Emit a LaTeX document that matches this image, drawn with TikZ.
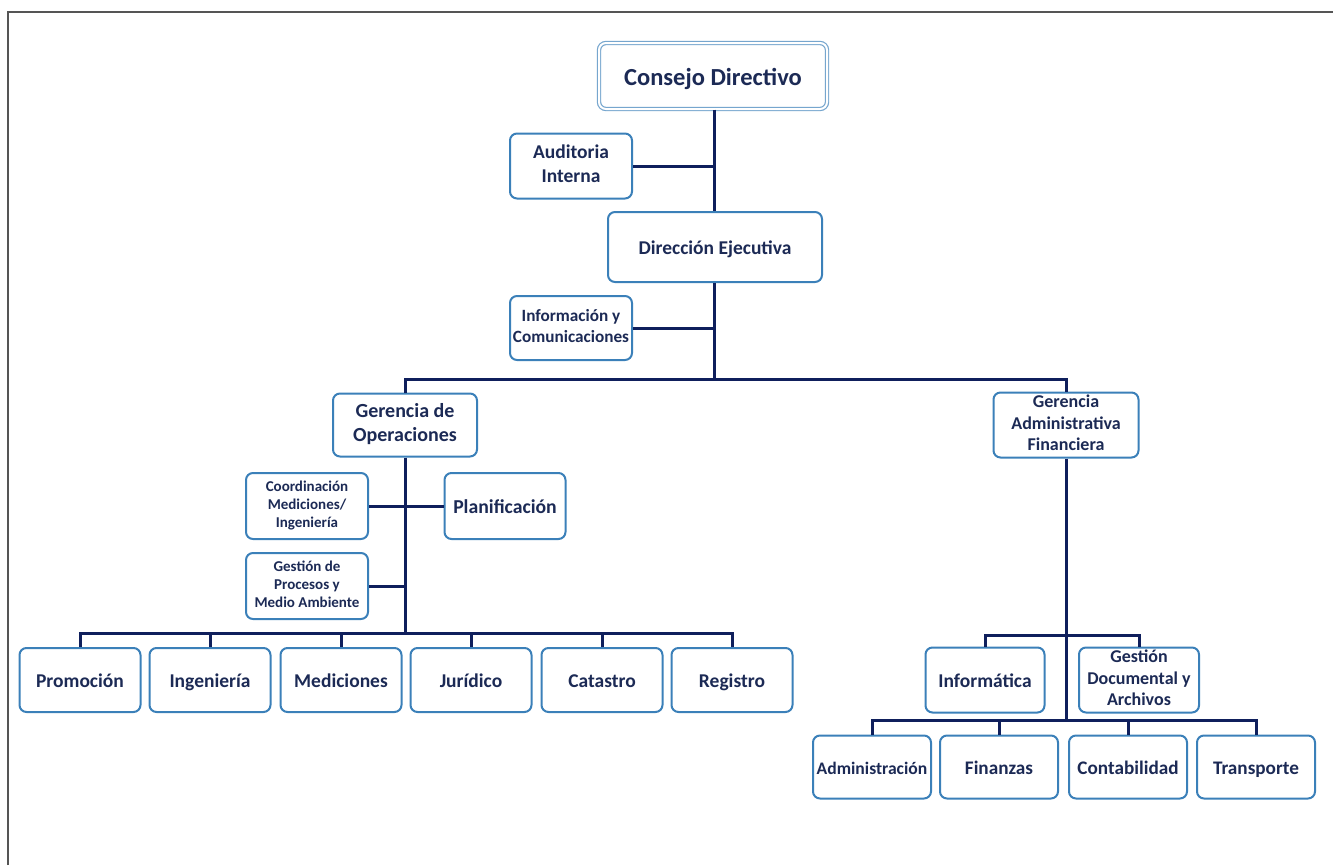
\documentclass[tikz,border=0pt]{standalone}
\usepackage{fontspec}
\setmainfont{Carlito}
\definecolor{txt}{HTML}{1C2A55}
\definecolor{bord}{HTML}{3B80B9}
\definecolor{conn}{HTML}{0F1F5C}
\definecolor{frame}{HTML}{555555}
\newcommand{\fs}[1]{\fontsize{#1}{1.2\dimexpr #1pt\relax}\selectfont\bfseries}
\newcommand{\mystrut}{\rule[-0.25em]{0pt}{1.3em}}
\tikzset{
  box/.style={draw=bord, line width=2pt, rounded corners=7pt, fill=white, text=txt,
    align=center, inner sep=0pt, minimum width=121pt, minimum height=64pt,
    execute at begin node=\mystrut, execute at end node=\mystrut},
  link/.style={draw=conn, line width=3pt},
}
\begin{document}
\begin{tikzpicture}[x=1pt,y=-1pt]
\useasboundingbox (0,0) rectangle (1333,865);
\draw[frame, line width=2pt] (8,865) -- (8,12) -- (1333,12);
% top
\node[box, double=white, double distance=2pt, draw=bord!70, line width=1.2pt, minimum width=228pt, minimum height=66pt, font=\fs{24.5}] (cd) at (713,76) {Consejo Directivo};
\node[box, minimum width=122pt, minimum height=65pt, font=\fs{19.5}] (ai) at (571,166) {Auditoria\\Interna};
\node[box, minimum width=214pt, minimum height=70pt, font=\fs{19.5}] (de) at (715,247) {Dirección Ejecutiva};
\node[box, minimum width=122pt, minimum height=64pt, font=\fs{17.2}] (ic) at (571,328) {Información y\\Comunicaciones};
\node[box, minimum width=144pt, minimum height=63pt, font=\fs{20}] (go) at (405,425) {Gerencia de\\Operaciones};
\node[box, minimum width=145pt, minimum height=65pt, font=\fs{18}] (gaf) at (1066,425) {Gerencia\\Administrativa\\Financiera};
\node[box, minimum width=122pt, minimum height=66pt, font=\fs{15}] (cm) at (307,506) {Coordinación\\Mediciones/\\Ingeniería};
\node[box, minimum width=121pt, minimum height=66pt, font=\fs{19.7}] (pl) at (505,506) {Planificación};
\node[box, minimum width=122pt, minimum height=66pt, font=\fs{15}] (gp) at (307,586) {Gestión de\\Procesos y\\Medio Ambiente};
% bottom left row
\node[box, font=\fs{19.5}] (pro) at (80,680) {Promoción};
\node[box, font=\fs{19.5}] (ing) at (210,680) {Ingeniería};
\node[box, font=\fs{19.5}] (med) at (341,680) {Mediciones};
\node[box, font=\fs{19.5}] (jur) at (471,680) {Jurídico};
\node[box, font=\fs{19.5}] (cat) at (602,680) {Catastro};
\node[box, font=\fs{19.5}] (reg) at (732,680) {Registro};
% right
\node[box, minimum width=119pt, minimum height=65pt, font=\fs{19.5}] (inf) at (985,680) {Informática};
\node[box, minimum width=120pt, minimum height=65pt, font=\fs{18}] (gd) at (1139,680) {Gestión\\Documental y\\Archivos};
\node[box, minimum width=118pt, minimum height=63pt, font=\fs{17.6}] (adm) at (872,767) {Administración};
\node[box, minimum width=118pt, minimum height=63pt, font=\fs{19.2}] (fin) at (999,767) {Finanzas};
\node[box, minimum width=118pt, minimum height=63pt, font=\fs{19.2}] (con) at (1128,767) {Contabilidad};
\node[box, minimum width=118pt, minimum height=63pt, font=\fs{19.2}] (tra) at (1256,767) {Transporte};
% junctions
\coordinate (bus1) at (714,379);
\coordinate (bus2) at (405,633);
\coordinate (bus3) at (1066,635);
\coordinate (bus4) at (1066,720);
% connectors
\draw[link] (cd.south -| bus1) -- (de.north -| bus1);
\draw[link] (ai.east) -- (ai.east -| bus1);
\draw[link] (de.south -| bus1) -- (bus1);
\draw[link] (ic.east) -- (ic.east -| bus1);
\draw[link] (go.north) |- (bus1) -| (gaf.north);
\draw[link] (go.south) -- (bus2);
\draw[link] (cm.east) -- (pl.west);
\draw[link] (gp.east) -- (gp.east -| go.south);
\draw[link] (pro.north) |- (bus2) -| (reg.north);
\draw[link] (ing.north) -- (ing.north |- bus2);
\draw[link] (med.north) -- (med.north |- bus2);
\draw[link] (jur.north) -- (jur.north |- bus2);
\draw[link] (cat.north) -- (cat.north |- bus2);
\draw[link] (gaf.south) -- (bus4);
\draw[link] (inf.north) |- (bus3) -| (gd.north);
\draw[link] (adm.north) |- (bus4) -| (tra.north);
\draw[link] (fin.north) -- (fin.north |- bus4);
\draw[link] (con.north) -- (con.north |- bus4);
\end{tikzpicture}
\end{document}
